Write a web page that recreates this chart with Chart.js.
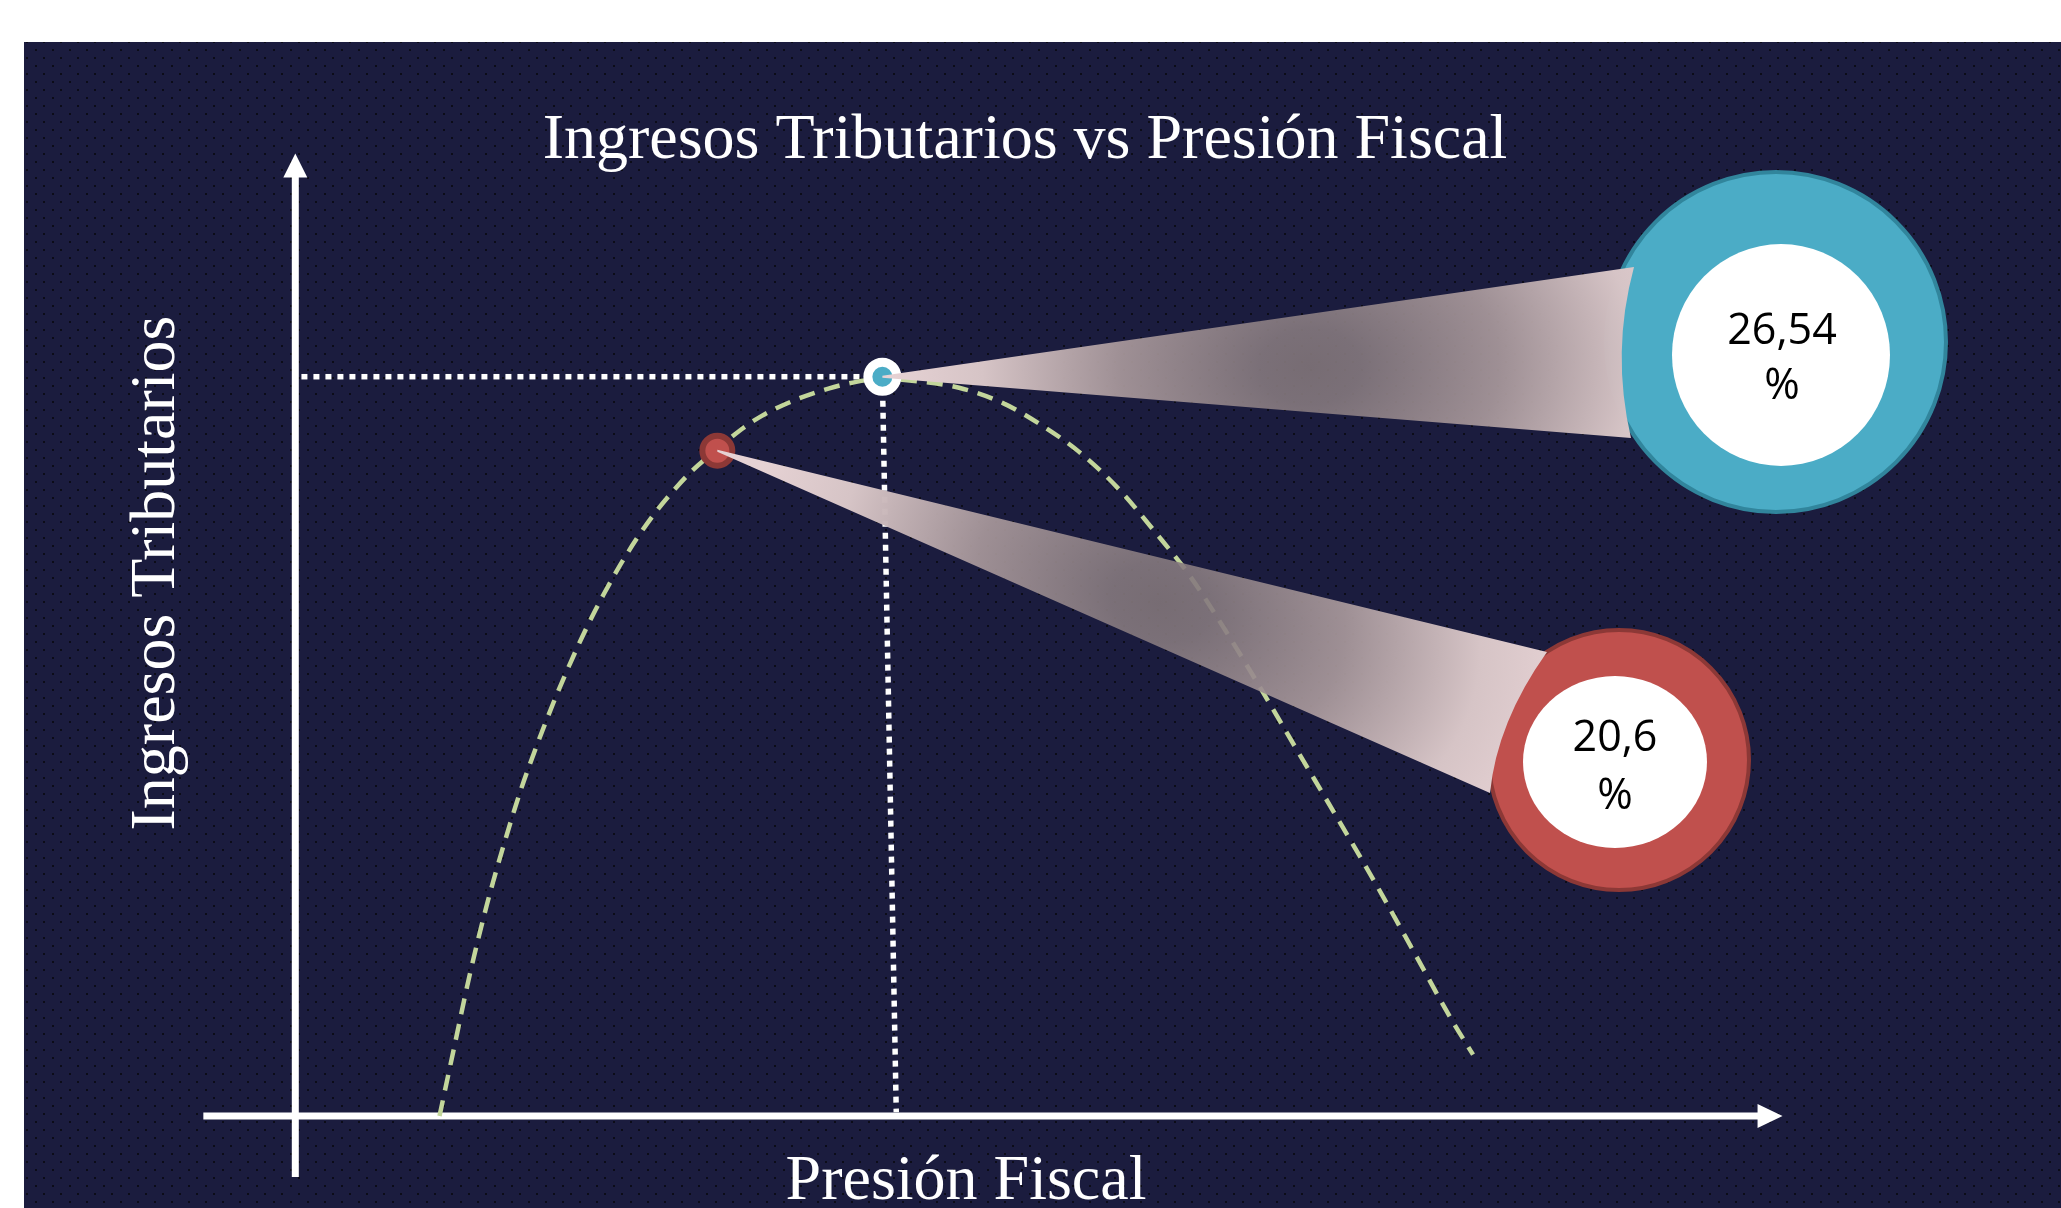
<!DOCTYPE html>
<html lang="es">
<head>
<meta charset="utf-8">
<title>Ingresos Tributarios vs Presión Fiscal</title>
<script src="https://cdn.jsdelivr.net/npm/chart.js"></script>
<style>
  html, body { margin: 0; padding: 0; background: #fff; overflow: hidden; }
  canvas { display: block; }
</style>
</head>
<body>
<canvas id="laffer" width="2061" height="1208"></canvas>
<script>
// Curva de Laffer (presion en %, ingresos en escala relativa)
const presionFiscal = [10.6, 11.1, 11.7, 12.3, 12.9, 13.5, 14.1, 14.7, 15.3, 15.9, 16.5, 17.1, 17.7, 18.3, 19.0, 19.7,
  20.6, 21.4, 22.2, 23.3, 24.6, 25.6, 26.5, 27.2, 29.3, 30.9, 32.2, 33.6, 35.0, 36.4, 37.6, 38.9, 40.1, 41.4,
  42.9, 44.3, 45.7, 47.0, 47.8];
const ingresos = [0, 8.8, 19.3, 28.5, 36.5, 43.8, 50.1, 55.9, 61.2, 66.1, 70.5, 74.5, 78.1, 81.3, 84.5, 87.3,
  90.2, 92.7, 94.7, 96.7, 98.4, 99.3, 99.7, 99.6, 98.5, 96.4, 93.6, 89.9, 85.0, 78.8, 73.1, 65.6, 58.2, 49.9,
  40.4, 31.4, 22.0, 13.2, 8.3];

// Puntos destacados: optimo (azul) y actual (rojo)
const puntosPresion = [26.54, 20.6];
const puntosIngresos = [100, 90];

const tituloGrafico = 'Ingresos Tributarios vs Presión Fiscal';
const tituloEjeX = 'Presión Fiscal';
const tituloEjeY = 'Ingresos Tributarios';

// Colores
const fondo = '#1b1c3e';
const azul = '#4bacc6';
const azulBorde = '#31859c';
const rojo = '#c0504d';
const rojoBorde = '#8c3836';
const verde = '#c3d69b';

// Ejes dibujados a mano (en unidades de datos)
const ejeYenX = 5.41;
const ejeYdesde = -8.25;
const ejeYhasta = 130.2;
const ejeXdesde = 2.1;
const ejeXhasta = 58.94;

// Globos con los porcentajes (posiciones en pixeles)
const globos = [
  { ring: [1776, 342, 170], hole: [1781, 355, 109, 111], color: azul, borde: azulBorde,
    edge: [[1634, 267], [1611, 352], [1631, 438]], spot: [1310, 367], textX: 1782, textY: [344, 399] },
  { ring: [1619, 760, 130], hole: [1615, 762, 92, 86], color: rojo, borde: rojoBorde,
    edge: [[1547, 652], [1497, 722], [1490, 793]], spot: [1160, 603], textX: 1615, textY: [751, 809] }
];

const curva = presionFiscal.map((x, i) => ({ x: x, y: ingresos[i] }));
const puntos = puntosPresion.map((x, i) => ({ x: x, y: puntosIngresos[i] }));

// Patron de puntitos del fondo
const tile = document.createElement('canvas');
tile.width = 17;
tile.height = 16;
const tctx = tile.getContext('2d');
tctx.fillStyle = fondo;
tctx.fillRect(0, 0, 17, 16);
tctx.fillStyle = '#0c0c18';
tctx.fillRect(1, 1, 2, 2);
tctx.fillRect(9, 9, 2, 2);

const fondoPlugin = {
  id: 'fondo',
  beforeDraw(chart) {
    const ctx = chart.ctx;
    ctx.save();
    ctx.fillStyle = '#ffffff';
    ctx.fillRect(0, 0, chart.width, chart.height);
    ctx.fillStyle = ctx.createPattern(tile, 'repeat');
    ctx.fillRect(24, 42, chart.width - 24, chart.height - 42);
    ctx.restore();
  }
};

const ejesPlugin = {
  id: 'ejes',
  beforeDatasetsDraw(chart) {
    const ctx = chart.ctx;
    const sx = chart.scales.x, sy = chart.scales.y;
    const ax = sx.getPixelForValue(ejeYenX);
    const ay = sy.getPixelForValue(0);
    const tipY = sy.getPixelForValue(ejeYhasta);
    const tipX = sx.getPixelForValue(ejeXhasta);
    ctx.save();
    ctx.strokeStyle = '#ffffff';
    ctx.fillStyle = '#ffffff';
    ctx.lineWidth = 7;
    ctx.beginPath();
    ctx.moveTo(ax, sy.getPixelForValue(ejeYdesde));
    ctx.lineTo(ax, tipY + 20);
    ctx.moveTo(sx.getPixelForValue(ejeXdesde), ay);
    ctx.lineTo(tipX - 20, ay);
    ctx.stroke();
    // puntas de flecha
    ctx.beginPath();
    ctx.moveTo(ax, tipY);
    ctx.lineTo(ax - 12, tipY + 24);
    ctx.lineTo(ax + 12, tipY + 24);
    ctx.closePath();
    ctx.moveTo(tipX, ay);
    ctx.lineTo(tipX - 25, ay - 12);
    ctx.lineTo(tipX - 25, ay + 12);
    ctx.closePath();
    ctx.fill();
    ctx.restore();
  }
};

// Cuna rosa que une el punto con su globo (centro oscuro y algo transparente)
function dibujarCuna(ctx, apex, g) {
  const e = g.edge;
  ctx.beginPath();
  ctx.moveTo(apex.x, apex.y - 1);
  ctx.lineTo(e[0][0], e[0][1]);
  ctx.quadraticCurveTo(e[1][0], e[1][1], e[2][0], e[2][1]);
  ctx.lineTo(apex.x, apex.y + 1);
  ctx.closePath();
  const mx = (e[0][0] + e[2][0]) / 2, my = (e[0][1] + e[2][1]) / 2;
  const ang = Math.atan2(my - apex.y, mx - apex.x);
  ctx.save();
  ctx.translate(g.spot[0], g.spot[1]);
  ctx.rotate(ang);
  ctx.scale(1, 0.75);
  const grad = ctx.createRadialGradient(0, 0, 0, 0, 0, 420);
  grad.addColorStop(0, 'rgba(129,117,121,0.9)');
  grad.addColorStop(0.12, 'rgba(133,121,126,0.9)');
  grad.addColorStop(0.45, 'rgba(168,152,155,0.93)');
  grad.addColorStop(0.78, 'rgba(214,196,198,1)');
  grad.addColorStop(1, 'rgba(230,210,212,1)');
  ctx.fillStyle = grad;
  ctx.fill();
  ctx.restore();
}

const globosPlugin = {
  id: 'globos',
  afterDatasetsDraw(chart) {
    const ctx = chart.ctx;
    const meta = chart.getDatasetMeta(0);
    globos.forEach((g, i) => {
      const p = meta.data[i];
      ctx.save();
      // anillo exterior
      ctx.beginPath();
      ctx.arc(g.ring[0], g.ring[1], g.ring[2], 0, Math.PI * 2);
      ctx.fillStyle = g.color;
      ctx.fill();
      ctx.lineWidth = 4;
      ctx.strokeStyle = g.borde;
      ctx.stroke();
      ctx.restore();
      dibujarCuna(ctx, { x: p.x, y: p.y }, g);
      // circulo blanco interior
      ctx.save();
      ctx.beginPath();
      ctx.ellipse(g.hole[0], g.hole[1], g.hole[2], g.hole[3], 0, 0, Math.PI * 2);
      ctx.fillStyle = '#ffffff';
      ctx.fill();
      // porcentaje
      const valor = String(puntosPresion[i]).replace('.', ',');
      ctx.fillStyle = '#000000';
      ctx.font = '43px "Open Sans"';
      ctx.textAlign = 'center';
      ctx.textBaseline = 'alphabetic';
      ctx.fillText(valor, g.textX, g.textY[0]);
      ctx.fillText('%', g.textX, g.textY[1]);
      ctx.restore();
    });
  }
};

const textosPlugin = {
  id: 'textos',
  afterDraw(chart) {
    const ctx = chart.ctx;
    ctx.save();
    ctx.fillStyle = '#ffffff';
    ctx.font = '64px "Liberation Serif"';
    ctx.textAlign = 'center';
    ctx.textBaseline = 'alphabetic';
    ctx.fillText(tituloGrafico, 1025, 158);
    ctx.fillText(tituloEjeX, 966, 1199);
    ctx.translate(174, 573);
    ctx.rotate(-Math.PI / 2);
    ctx.fillText(tituloEjeY, 0, 0);
    ctx.restore();
  }
};

const ctx = document.getElementById('laffer').getContext('2d');
new Chart(ctx, {
  type: 'scatter',
  data: {
    datasets: [
      {
        label: 'Puntos',
        data: puntos,
        pointRadius: [14.5, 15],
        pointBorderWidth: [9, 6],
        pointBackgroundColor: [azul, rojo],
        pointBorderColor: ['#ffffff', rojoBorde],
        showLine: false,
        order: 0,
        clip: false
      },
      {
        label: 'Guia horizontal',
        data: [{ x: ejeYenX + 0.22, y: puntosIngresos[0] }, { x: puntosPresion[0], y: puntosIngresos[0] }],
        showLine: true,
        borderColor: '#ffffff',
        borderWidth: 5.5,
        borderDash: [6, 6],
        pointRadius: 0,
        order: 2,
        clip: false
      },
      {
        label: 'Guia vertical',
        data: [{ x: puntosPresion[0], y: puntosIngresos[0] }, { x: puntosPresion[0] + 0.5, y: 0.5 }],
        showLine: true,
        borderColor: '#ffffff',
        borderWidth: 5.5,
        borderDash: [6, 6],
        pointRadius: 0,
        order: 2,
        clip: false
      },
      {
        label: 'Curva de Laffer',
        data: curva,
        showLine: true,
        borderColor: verde,
        borderWidth: 4.5,
        borderDash: [16, 10],
        pointRadius: 0,
        cubicInterpolationMode: 'monotone',
        order: 1,
        clip: false
      }
    ]
  },
  options: {
    responsive: false,
    animation: false,
    events: [],
    layout: { padding: { left: 145, right: 249, top: 81, bottom: 92 } },
    scales: {
      x: { type: 'linear', min: 0, max: 60, display: false },
      y: { type: 'linear', min: 0, max: 140, display: false }
    },
    plugins: {
      legend: { display: false },
      tooltip: { enabled: false },
      title: { display: false }
    }
  },
  plugins: [fondoPlugin, ejesPlugin, globosPlugin, textosPlugin]
});
</script>
</body>
</html>
